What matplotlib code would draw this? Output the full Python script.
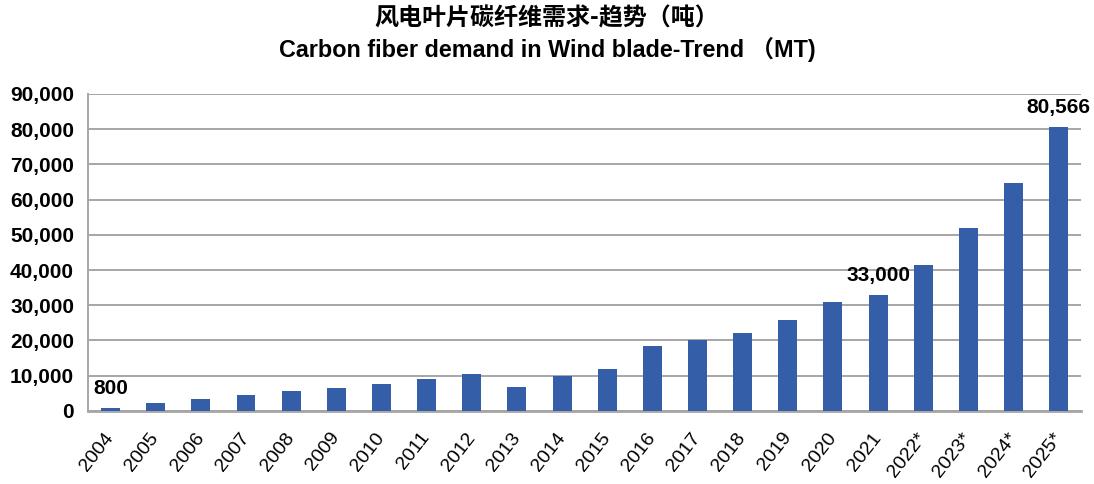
import matplotlib.pyplot as plt
from matplotlib.ticker import FuncFormatter

years = ["2004", "2005", "2006", "2007", "2008", "2009", "2010", "2011",
         "2012", "2013", "2014", "2015", "2016", "2017", "2018", "2019",
         "2020", "2021", "2022*", "2023*", "2024*", "2025*"]
demand = [800, 2200, 3300, 4500, 5650, 6400, 7700, 9100,
          10400, 6900, 10000, 12000, 18300, 20000, 22200, 25900,
          31000, 33000, 41300, 51900, 64600, 80566]
labelled = {"2004": "800", "2021": "33,000", "2025*": "80,566"}

BAR_COLOR = "#355ea9"
GRID_COLOR = "#a6a6a6"

plt.rcParams["font.family"] = ["Liberation Sans", "Noto Sans CJK SC", "DejaVu Sans"]

fig = plt.figure(figsize=(10.94, 4.84), dpi=100)
ax = fig.add_axes((0.0804, 0.151, 0.908, 0.655))

x = list(range(len(years)))
ax.bar(x, demand, width=0.42, color=BAR_COLOR, zorder=3)

for xi, yr, val in zip(x, years, demand):
    if yr in labelled:
        ax.annotate(labelled[yr], (xi, val), xytext=(0, 7), textcoords="offset points",
                    ha="center", va="bottom", fontsize=15, fontweight="bold")

ax.set_xlim(-0.5, len(years) - 0.5)
ax.set_ylim(0, 90000)
ax.set_yticks(range(0, 90001, 10000))
ax.yaxis.set_major_formatter(FuncFormatter(lambda v, p: f"{int(v):,}"))
ax.grid(axis="y", color=GRID_COLOR, linewidth=1.4, zorder=0)
ax.set_xticks(x)
ax.set_xticklabels(years, rotation=52, ha="right", va="center",
                   rotation_mode="anchor", fontsize=14)
for lab in ax.get_yticklabels():
    lab.set_fontweight("bold")
    lab.set_fontsize(15)
ax.tick_params(axis="y", length=0, pad=10)
ax.tick_params(axis="x", length=0, pad=17)

for side in ("top", "right"):
    ax.spines[side].set_visible(False)
ax.spines["left"].set_color(GRID_COLOR)
ax.spines["left"].set_linewidth(1.4)
ax.spines["bottom"].set_color(GRID_COLOR)
ax.spines["bottom"].set_linewidth(2.0)

fig.text(0.5, 0.962, "风电叶片碳纤维需求-趋势（吨）", ha="center", va="center",
         fontsize=17.3, fontweight="bold",
         family=["Noto Sans CJK SC", "DejaVu Sans"])
fig.text(0.5, 0.898, "Carbon fiber demand in Wind blade-Trend （MT)", ha="center",
         va="center", fontsize=16.8, fontweight="bold")

fig.savefig("out.png", dpi=100)
